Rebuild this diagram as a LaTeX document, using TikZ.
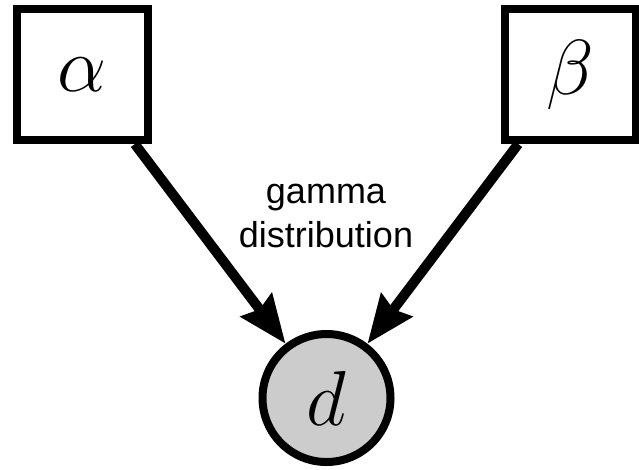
\RequirePackage{fix-cm}
\documentclass[tikz,border=0pt]{standalone}
\usepackage{fontspec}
\newfontfamily\labelfont{Liberation Sans}
\usetikzlibrary{arrows.meta}
\tikzset{
  param/.style={draw, line width=8pt, rectangle, inner sep=0pt, minimum size=131pt, font=\fontsize{78}{80}\selectfont},
  obs/.style={draw, line width=8pt, circle, fill=black!20, inner sep=0pt, minimum size=128pt, font=\fontsize{78}{80}\selectfont},
  conn/.style={line width=10pt, -{Stealth[length=48pt,width=38pt,inset=5pt]}},
  lbl/.style={font=\labelfont\fontsize{36}{44}\selectfont, align=center}
}
\begin{document}
\begin{tikzpicture}[x=1pt,y=1pt]
\useasboundingbox (0,0) rectangle (639,-469);
\node[param] (a) at (82.5,-74.5) {$\alpha$};
\node[param] (b) at (570.5,-74.5) {$\beta$};
\node[obs] (d) at (326.5,-398) {$d$};
\node[lbl] (t) at (326,-216) {gamma\\distribution};
\draw[conn] (a) -- (d);
\draw[conn] (b) -- (d);
\end{tikzpicture}
\end{document}
